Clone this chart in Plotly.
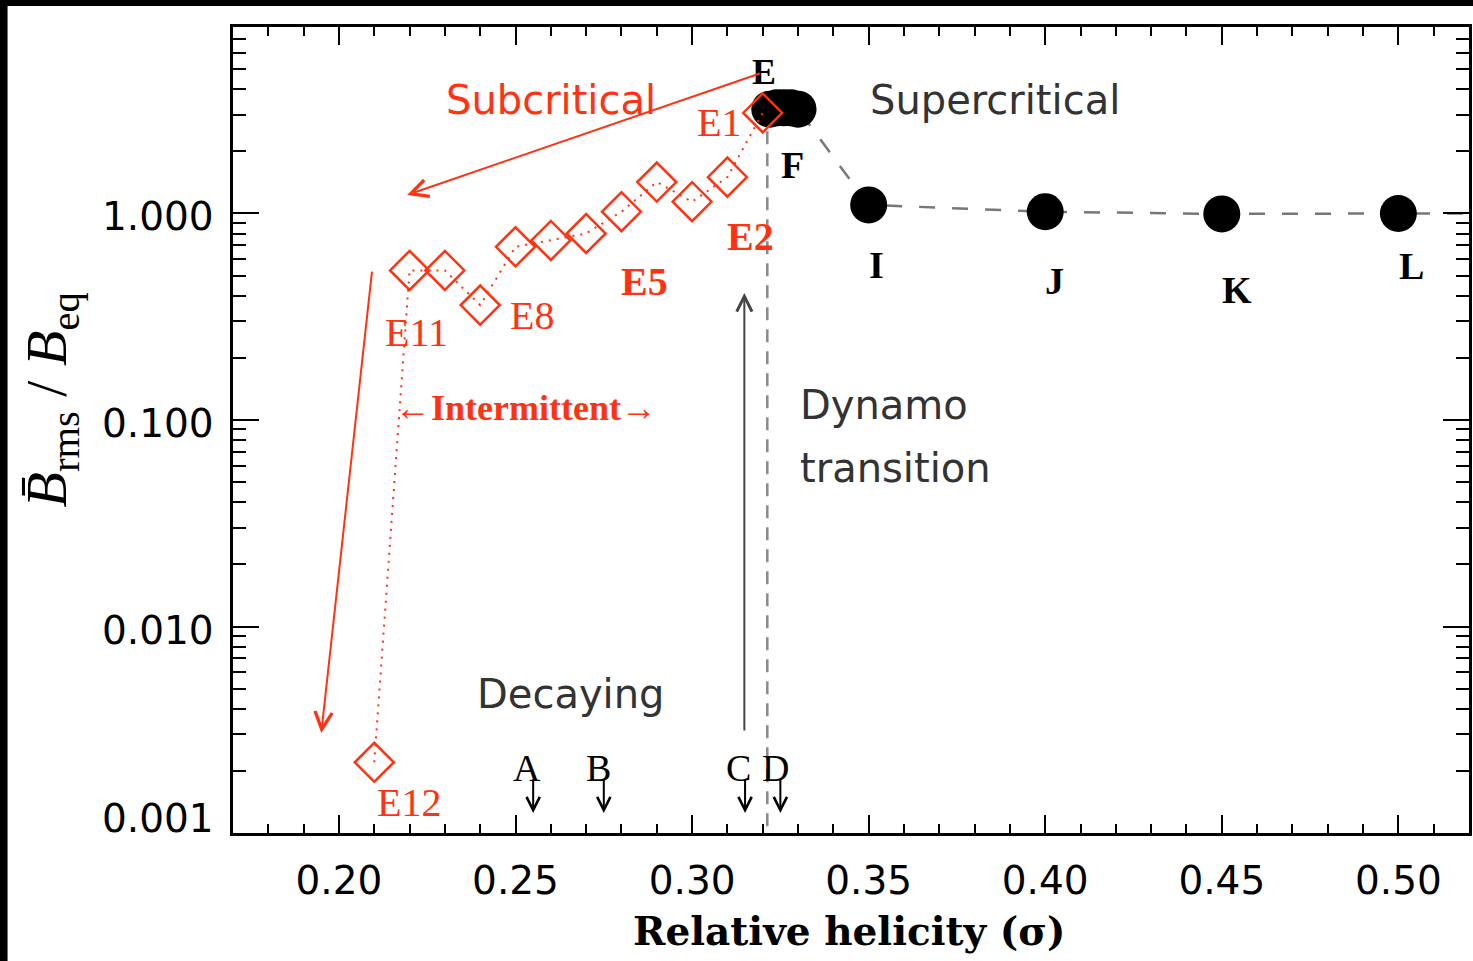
import math
import plotly.graph_objects as go

# ---------------- data ----------------
# red intermittent / subcritical runs E12 ... E1
sigma_E = [0.21, 0.22, 0.23, 0.24, 0.25, 0.26, 0.27, 0.28, 0.29, 0.30, 0.31, 0.32]
b_E = [0.0022, 0.53, 0.53, 0.36, 0.69, 0.74, 0.80, 1.02, 1.42, 1.14, 1.50, 3.07]

# black supercritical runs (E/F cluster, I, J, K, L, and beyond)
sigma_S = [0.322, 0.324, 0.326, 0.328, 0.330, 0.35, 0.40, 0.45, 0.50, 0.55]
b_S = [3.20, 3.25, 3.25, 3.25, 3.20, 1.10, 1.02, 0.995, 1.00, 1.00]

# dynamo transition
sigma_transition = 0.3213
b_transition = [2.5, 0.001]

# decaying runs
decay_labels = ["A", "B", "C", "D"]
decay_sigma = [0.255, 0.275, 0.315, 0.325]

# ticks
xtick_vals = [0.20, 0.25, 0.30, 0.35, 0.40, 0.45, 0.50]
xtick_text = ["0.20", "0.25", "0.30", "0.35", "0.40", "0.45", "0.50"]
ytick_vals = [0.001, 0.01, 0.1, 1.0]
ytick_text = ["0.001", "0.010", "0.100", "1.000"]
ytick_shift = [15, -4, -4, -3]
ymin, ymax = 0.001, 8.0
xmin, xmax = 0.17, 0.52

RED = "#ff3311"
DARK = "#333333"
SANS = "DejaVu Sans"
SERIF = "Liberation Serif"

L = math.log10

fig = go.Figure()

# transition dashed line
fig.add_trace(go.Scatter(
    x=[sigma_transition, sigma_transition], y=b_transition, mode="lines",
    line=dict(color="#8a8a8a", width=2.5, dash="13px,9px"),
    showlegend=False, hoverinfo="skip"))

# supercritical
fig.add_trace(go.Scatter(
    x=sigma_S, y=b_S, mode="lines+markers",
    line=dict(color="#777777", width=2.5, dash="16px,17px"),
    marker=dict(symbol="circle", size=37, color="black", line=dict(width=0)),
    showlegend=False))

# subcritical / intermittent
fig.add_trace(go.Scatter(
    x=sigma_E, y=b_E, mode="lines+markers",
    line=dict(color=RED, width=2, dash="2px,6px"),
    marker=dict(symbol="diamond-open", size=30, color=RED, line=dict(width=2.5, color=RED)),
    showlegend=False))

ann = []


def text(x, y, s, size=40, color=DARK, family=SANS, xanchor="center", bold=False):
    if bold:
        s = "<b>" + s + "</b>"
    ann.append(dict(x=x, y=L(y), xref="x", yref="y", text=s, showarrow=False,
                    xanchor=xanchor, yanchor="middle",
                    font=dict(size=size, color=color, family=family)))


def arrow(x0, y0, x1, y1, color, width=2, size=1.0, head=5):
    ann.append(dict(x=x1, y=L(y1), ax=x0, ay=L(y0), xref="x", yref="y",
                    axref="x", ayref="y", text="", showarrow=True,
                    arrowhead=head, arrowsize=size, arrowwidth=width,
                    arrowcolor=color, standoff=0, startstandoff=0))


# region labels
text(0.2600, 3.55, "Subcritical", color=RED)
text(0.3857, 3.55, "Supercritical")
text(0.3301, 0.118, "Dynamo", xanchor="left")
text(0.3301, 0.0586, "transition", xanchor="left")
text(0.2657, 0.00471, "Decaying")

# run labels (red)
text(0.3075, 2.77, "E1", size=40, color=RED, family=SERIF)
text(0.3165, 0.778, "E2", size=40, color=RED, family=SERIF, bold=True)
text(0.2866, 0.466, "E5", size=40, color=RED, family=SERIF, bold=True)
text(0.2546, 0.319, "E8", size=40, color=RED, family=SERIF)
text(0.2221, 0.264, "E11", size=40, color=RED, family=SERIF)
text(0.2199, 0.00141, "E12", size=40, color=RED, family=SERIF)
text(0.2530, 0.114, "\u2190Intermittent\u2192", size=36, color=RED, family=SERIF, bold=True)

# run labels (black)
text(0.3205, 4.84, "E", size=36, color="black", family=SERIF, bold=True)
text(0.3284, 1.72, "F", size=38, color="black", family=SERIF, bold=True)
text(0.3522, 0.564, "I", size=38, color="black", family=SERIF, bold=True)
text(0.4025, 0.471, "J", size=38, color="black", family=SERIF, bold=True)
text(0.4542, 0.427, "K", size=38, color="black", family=SERIF, bold=True)
text(0.5036, 0.557, "L", size=38, color="black", family=SERIF, bold=True)

letter_dx = [-0.0017, -0.0014, -0.0019, -0.0014]
for lab, s, dx in zip(decay_labels, decay_sigma, letter_dx):
    text(s + dx, 0.00207, lab, size=38, color="black", family=SERIF)
    arrow(s, 0.00184, s, 0.00125, "black", width=2, size=1.3)

# arrows
arrow(0.3196, 4.79, 0.2193, 1.229, RED, width=2, size=1.7)
arrow(0.2094, 0.532, 0.1950, 0.00305, RED, width=2, size=1.7)
arrow(0.3148, 0.00308, 0.3148, 0.412, "#444444", width=2, size=1.5)

# y tick labels (placed as in the reference: 0.001 sits just above the bottom axis)
for v, t, sh in zip(ytick_vals, ytick_text, ytick_shift):
    ann.append(dict(x=(216 - 233) / 1239, y=L(v), xref="paper", yref="y", text=t,
                    showarrow=False, xanchor="right", yanchor="middle", yshift=sh,
                    font=dict(family=SANS, size=39, color="black")))

# axis titles
ann.append(dict(x=(850 - 233) / 1239, y=(833 - 931) / 806, xref="paper", yref="paper",
                text="<b>Relative helicity (\u03c3)</b>", showarrow=False,
                xanchor="center", yanchor="middle",
                font=dict(size=39, color="black", family="DejaVu Serif")))
ann.append(dict(x=(50 - 233) / 1239, y=(833 - 400) / 806, xref="paper", yref="paper",
                text="<i>B\u0304</i><sub>rms</sub> / <i>B</i><sub>eq</sub>", showarrow=False,
                textangle=-90, xanchor="center", yanchor="middle",
                font=dict(size=58, color="black", family=SERIF)))

# black strips at the top and left edges of the picture
shapes = [
    dict(type="rect", xref="paper", yref="paper", x0=-0.2, x1=1.01,
         y0=(833 - 6) / 806, y1=(833 + 2) / 806, fillcolor="black", line=dict(width=0)),
    dict(type="rect", xref="paper", yref="paper", x0=(-2 - 233) / 1239, x1=(7 - 233) / 1239,
         y0=-0.2, y1=1.05, fillcolor="black", line=dict(width=0)),
]

minor_y = [m * 10 ** e for e in range(-3, 1) for m in range(2, 10) if m * 10 ** e < ymax]

fig.update_layout(
    width=1473, height=961,
    margin=dict(l=233, r=1, t=27, b=128),
    paper_bgcolor="white", plot_bgcolor="white",
    annotations=ann, shapes=shapes, showlegend=False,
    xaxis=dict(range=[xmin, xmax], showgrid=False, zeroline=False,
               showline=True, linecolor="black", linewidth=2.5, mirror="ticks",
               ticks="inside", ticklen=18, tickwidth=2, tickcolor="black",
               tickvals=xtick_vals, ticktext=xtick_text,
               tickfont=dict(family=SANS, size=39, color="black"),
               ticklabelstandoff=11,
               minor=dict(ticks="inside", ticklen=9, tickwidth=2, tickcolor="black",
                          tick0=0.20, dtick=0.01)),
    yaxis=dict(type="log", range=[L(ymin), L(ymax)], showgrid=False, zeroline=False,
               showline=True, linecolor="black", linewidth=2.5, mirror="ticks",
               ticks="inside", ticklen=26, tickwidth=2, tickcolor="black",
               tickvals=ytick_vals, showticklabels=False,
               minor=dict(ticks="inside", ticklen=13, tickwidth=2, tickcolor="black",
                          tickmode="array", tickvals=minor_y)),
)

fig.write_html("out.html")
